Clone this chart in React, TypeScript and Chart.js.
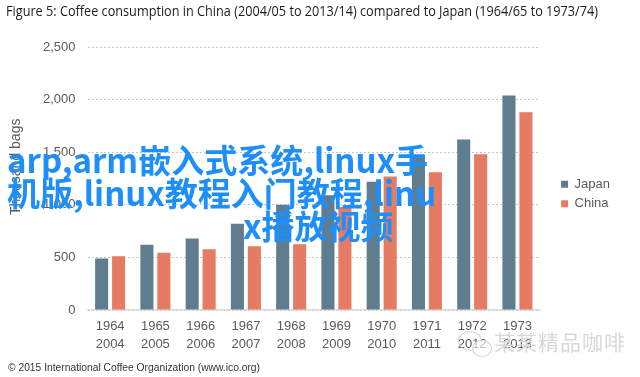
import React, { useEffect, useRef } from "react";
import { Chart, registerables } from "chart.js";

Chart.register(...registerables);

const figureTitle =
  "Figure 5: Coffee consumption in China (2004/05 to 2013/14) compared to Japan (1964/65 to 1973/74)";
const japanYears = ["1964", "1965", "1966", "1967", "1968", "1969", "1970", "1971", "1972", "1973"];
const chinaYears = ["2004", "2005", "2006", "2007", "2008", "2009", "2010", "2011", "2012", "2013"];
const japanValues = [490, 620, 680, 820, 1000, 1090, 1220, 1470, 1620, 2040];
const chinaValues = [510, 545, 577, 605, 624, 980, 1270, 1310, 1480, 1880];
const seriesNames = ["Japan", "China"];
const yMin = 0;
const yMax = 2500;
const yStep = 500;
const yAxisTitle = "Thousand bags";
const sourceNote = "© 2015 International Coffee Organization (www.ico.org)";
const overlayLines = ["arp,arm嵌入式系统,linux手", "机版,linux教程入门教程,linu", "x播放视频"];
const watermarkText = "某某精品咖啡";

const JAPAN_COLOR = "#607d8f";
const CHINA_COLOR = "#e57b62";
const TEXT_GREY = "#5a5a5a";

function fitScale(text: string, font: string, target: number): number {
  const c = document.createElement("canvas").getContext("2d");
  if (!c) return 1;
  c.font = font;
  const w = c.measureText(text).width;
  return w > 0 ? target / w : 1;
}

export default function App() {
  const canvasRef = useRef<HTMLCanvasElement | null>(null);

  useEffect(() => {
    const canvas = canvasRef.current;
    if (!canvas) return;
    const labels = japanYears.map((y, i) => [y, chinaYears[i]]);
    const chart = new Chart(canvas, {
      type: "bar",
      data: {
        labels,
        datasets: [
          {
            label: seriesNames[0],
            data: japanValues,
            backgroundColor: JAPAN_COLOR,
            borderWidth: 0,
            categoryPercentage: 0.75,
            barPercentage: 0.77,
          },
          {
            label: seriesNames[1],
            data: chinaValues,
            backgroundColor: CHINA_COLOR,
            borderWidth: 0,
            categoryPercentage: 0.75,
            barPercentage: 0.77,
          },
        ],
      },
      options: {
        responsive: false,
        animation: false,
        devicePixelRatio: 1,
        layout: { padding: { left: 0, top: 47, right: 20, bottom: 0 } },
        plugins: {
          title: { display: false },
          tooltip: { enabled: false },
          legend: {
            display: true,
            position: "right",
            align: "center",
            fullSize: false,
            title: {
              display: true,
              text: " ",
              padding: { top: 8.3, bottom: 8.3 },
              font: { size: 12 },
            },
            labels: {
              boxWidth: 7,
              boxHeight: 7,
              padding: 6.4,
              color: TEXT_GREY,
              font: { family: "'Liberation Sans', Arial, sans-serif", size: 13 },
            },
          },
        },
        scales: {
          x: {
            grid: { display: false, drawTicks: false },
            border: { display: true, color: "#dcdcdc", width: 1.5 },
            ticks: {
              color: TEXT_GREY,
              padding: 8,
              maxRotation: 0,
              autoSkip: false,
              font: { family: "'Liberation Sans', Arial, sans-serif", size: 13, lineHeight: 1.35 },
            },
            afterFit: (s: any) => {
              s.height = 67;
            },
          },
          y: {
            min: yMin,
            max: yMax,
            grid: { display: true, color: "#c6c6c6", drawTicks: false, lineWidth: 1 },
            border: { display: false, dash: [2, 2] },
            ticks: {
              stepSize: yStep,
              color: TEXT_GREY,
              padding: 12,
              font: { family: "'Liberation Sans', Arial, sans-serif", size: 13 },
              callback: (v: any) => Number(v).toLocaleString("en-US"),
            },
            title: {
              display: true,
              text: "      " + yAxisTitle,
              color: TEXT_GREY,
              padding: { top: 8, bottom: 4 },
              font: { family: "'Liberation Sans', Arial, sans-serif", size: 14 },
            },
            afterFit: (s: any) => {
              s.width = 87.5;
            },
          },
          y2: {
            type: "linear",
            position: "right",
            display: true,
            grid: { display: false },
            border: { display: false },
            ticks: { display: false },
            afterFit: (s: any) => {
              s.width = 14.6;
            },
          },
        },
      },
    } as any);
    return () => chart.destroy();
  }, []);

  const titleFont = "14px 'Open Sans', sans-serif";
  const titleScale = fitScale(figureTitle, titleFont, 592);
  const noteFont = "11px 'Liberation Sans', Arial, sans-serif";
  const noteScale = fitScale(sourceNote, noteFont, 252);

  return (
    <div
      style={{
        position: "fixed",
        left: 0,
        top: 0,
        width: 640,
        height: 377,
        background: "#ffffff",
        overflow: "hidden",
      }}
    >
      <canvas ref={canvasRef} width={640} height={377} style={{ position: "absolute", left: 0, top: 0, display: "block" }} />
      <div
        style={{
          position: "absolute",
          left: 6,
          top: 0,
          font: titleFont,
          lineHeight: "22px",
          color: "#1c1c1c",
          whiteSpace: "nowrap",
          transformOrigin: "left top",
          transform: `scaleX(${titleScale})`,
        }}
      >
        {figureTitle}
      </div>
      <div
        style={{
          position: "absolute",
          left: 8,
          top: 360,
          font: noteFont,
          lineHeight: "14px",
          color: "#333333",
          whiteSpace: "nowrap",
          transformOrigin: "left top",
          transform: `scaleX(${noteScale})`,
        }}
      >
        {sourceNote}
      </div>
      <div
        style={{
          position: "absolute",
          left: 458,
          top: 331,
          width: 22,
          height: 18,
          borderRadius: "50%",
          border: "1.5px solid #d4d4d4",
        }}
      />
      <div
        style={{
          position: "absolute",
          left: 472,
          top: 340,
          width: 18,
          height: 15,
          borderRadius: "50%",
          border: "1.5px solid #d4d4d4",
          background: "rgba(255,255,255,0.6)",
        }}
      />
      <div
        style={{
          position: "absolute",
          left: 494,
          top: 328,
          font: "21px 'Noto Sans CJK SC', sans-serif",
          lineHeight: "26px",
          color: "#d8d8d8",
          whiteSpace: "nowrap",
          letterSpacing: "1px",
        }}
      >
        {watermarkText}
      </div>
      {overlayLines.map((line, i) => (
        <div
          key={i}
          style={{
            position: "absolute",
            left: i === 2 ? 243 : 7,
            top: 142.5 + i * 33,
            font: "bold 33px 'Noto Sans CJK SC', sans-serif",
            lineHeight: "33px",
            color: "#1e8ffa",
            whiteSpace: "nowrap",
          }}
        >
          {line}
        </div>
      ))}
    </div>
  );
}
